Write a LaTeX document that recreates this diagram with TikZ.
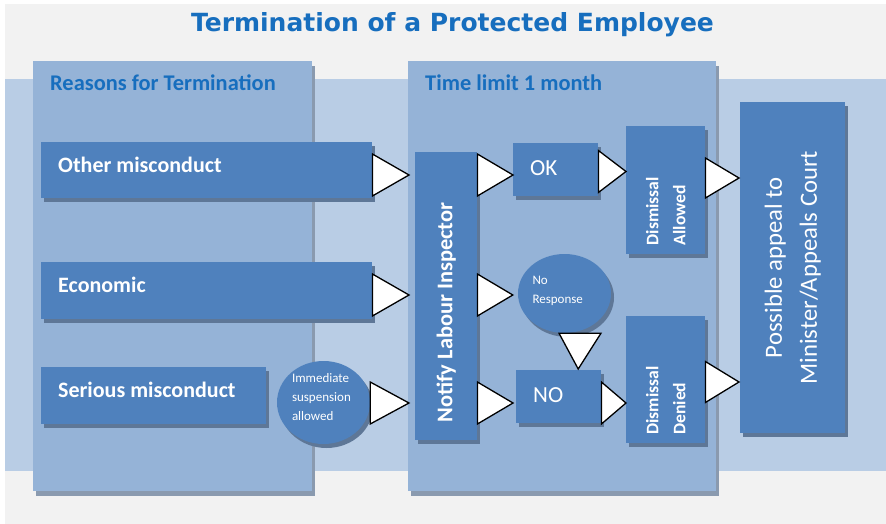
\documentclass[tikz,border=0pt]{standalone}
\usepackage{fontspec}
\setmainfont{Carlito}
\newfontfamily\titlefont{DejaVu Sans}
\usetikzlibrary{calc,shadows,shapes.geometric}
\definecolor{bggray}{HTML}{F2F2F2}
\definecolor{bandc}{HTML}{B9CDE5}
\definecolor{panelc}{HTML}{95B3D7}
\definecolor{panelsh}{HTML}{8A9AAF}
\definecolor{boxc}{HTML}{4F81BD}
\definecolor{boxsh}{HTML}{5E7797}
\definecolor{titlec}{RGB}{23,110,190}
\tikzset{
  panel/.style={fill=panelc, draw=none, inner sep=0pt, anchor=north west,
    drop shadow={shadow xshift=2.5pt, shadow yshift=-4.5pt, fill=panelsh, opacity=1}},
  panellbl/.style={anchor=base west, inner sep=0pt, text=titlec,
    font=\fontsize{22.4}{26}\selectfont\bfseries},
  box/.style={fill=boxc, draw=none, text=white, inner sep=0pt, anchor=north west,
    drop shadow={shadow xshift=3pt, shadow yshift=-4pt, fill=boxsh, opacity=1}},
  lbox/.style={box, text height=15pt, text depth=11pt,
    font=\fontsize{22}{26}\selectfont\bfseries},
  sbox/.style={box, text height=16pt, text depth=5pt,
    font=\fontsize{23}{27}\selectfont},
  ell/.style={ellipse, fill=boxc, draw=none, text=white, inner sep=0pt,
    font=\fontsize{13}{19}\selectfont,
    drop shadow={shadow xshift=3pt, shadow yshift=-4pt, fill=boxsh, opacity=1}},
  tri/.style={fill=white, draw=black, line width=1.3pt, line join=miter}
}
% src, tgt, y (image), half height, tip x offset
\newcommand\RTri[5]{%
  \draw[tri] (#1.east |- 0,-#3+#4) -- (#1.east |- 0,-#3-#4)
    -- ($(#2.west |- 0,-#3)+(#5,0)$) -- cycle;}
\begin{document}
\begin{tikzpicture}[x=1pt,y=1pt]
\useasboundingbox (0,0) rectangle (886,-524);
\fill[white] (0,0) rectangle (886,-524);
\fill[bggray] (5,-4) rectangle (886,-524);
\fill[bandc] (5,-79) rectangle (886,-471);

\node[font=\titlefont\fontsize{25}{30}\selectfont\bfseries, text=titlec,
  anchor=base, inner sep=0pt] (title) at (452.5,-32) {Termination of a Protected Employee};

% panels
\node[panel, minimum width=279pt, minimum height=430pt] (p1) at (33,-61) {};
\node[panel, minimum width=308pt, minimum height=430pt] (p2) at (408,-61) {};
\node[panellbl] (p1l) at (50,-91) {Reasons for Termination};
\node[panellbl] (p2l) at (425,-91) {Time limit 1 month};

% reasons
\node[lbox, minimum width=331pt, minimum height=56pt] (om) at (41,-142) {\makebox[297pt][l]{Other misconduct}};
\node[lbox, minimum width=331pt, minimum height=57pt] (eco) at (41,-262) {\makebox[297pt][l]{Economic}};
\node[lbox, minimum width=225pt, minimum height=57pt] (sm) at (41,-367) {\makebox[191pt][l]{Serious misconduct}};
\node[ell, minimum width=93pt, minimum height=83pt] (ims) at (323.5,-402.5)
  {\parbox[c][58pt][t]{63pt}{\raggedright Immediate\\suspension\\allowed}};

% notify
\node[box, minimum width=62pt, minimum height=288pt, font=\fontsize{22.4}{26}\selectfont\bfseries] (nli) at (415,-152)
  {\rotatebox{90}{\makebox[252pt][l]{Notify Labour Inspector}}};

% outcomes
\node[sbox, minimum width=85pt, minimum height=53pt] (ok) at (513,-143) {\makebox[51pt][l]{OK}};
\node[sbox, minimum width=85pt, minimum height=53pt] (no) at (516,-370) {\makebox[51pt][l]{NO}};
\node[ell, minimum width=93pt, minimum height=79pt] (nr) at (564.5,-293.5)
  {\parbox[c][35pt][t]{64pt}{\raggedright No\\Response}};

\node[box, minimum width=79pt, minimum height=128pt, font=\fontsize{17.6}{27}\selectfont\bfseries] (da) at (626,-126)
  {\rotatebox{90}{\parbox{110pt}{\raggedright Dismissal\\Allowed}}};
\node[box, minimum width=79pt, minimum height=127pt, font=\fontsize{17.6}{27}\selectfont\bfseries] (dd) at (626,-316)
  {\rotatebox{90}{\parbox{110pt}{\raggedright Dismissal\\Denied}}};

\node[box, minimum width=105pt, minimum height=331pt, font=\fontsize{24.7}{35}\selectfont] (ap) at (740,-102)
  {\rotatebox{90}{\parbox{300pt}{\centering Possible appeal to\\Minister/Appeals Court}}};

% connectors (triangles)
\RTri{om}{nli}{175}{21}{-6}
\RTri{eco}{nli}{295}{21}{-6}
\RTri{ims}{nli}{403}{21}{-6}
\RTri{nli}{ok}{175}{21}{0}
\RTri{nli}{nr}{295}{21}{-5}
\RTri{nli}{no}{403}{21}{-3}
\RTri{ok}{da}{171.5}{21}{0}
\RTri{no}{dd}{403}{21}{0}
\RTri{da}{ap}{178}{20}{-1}
\RTri{dd}{ap}{382}{20.5}{-1}
\draw[tri] ($(nr.south)+(-5.5,0)$) -- ($(nr.south)+(36.5,0)$) -- ($(no.north)+(19.5,1)$) -- cycle;
\end{tikzpicture}
\end{document}
